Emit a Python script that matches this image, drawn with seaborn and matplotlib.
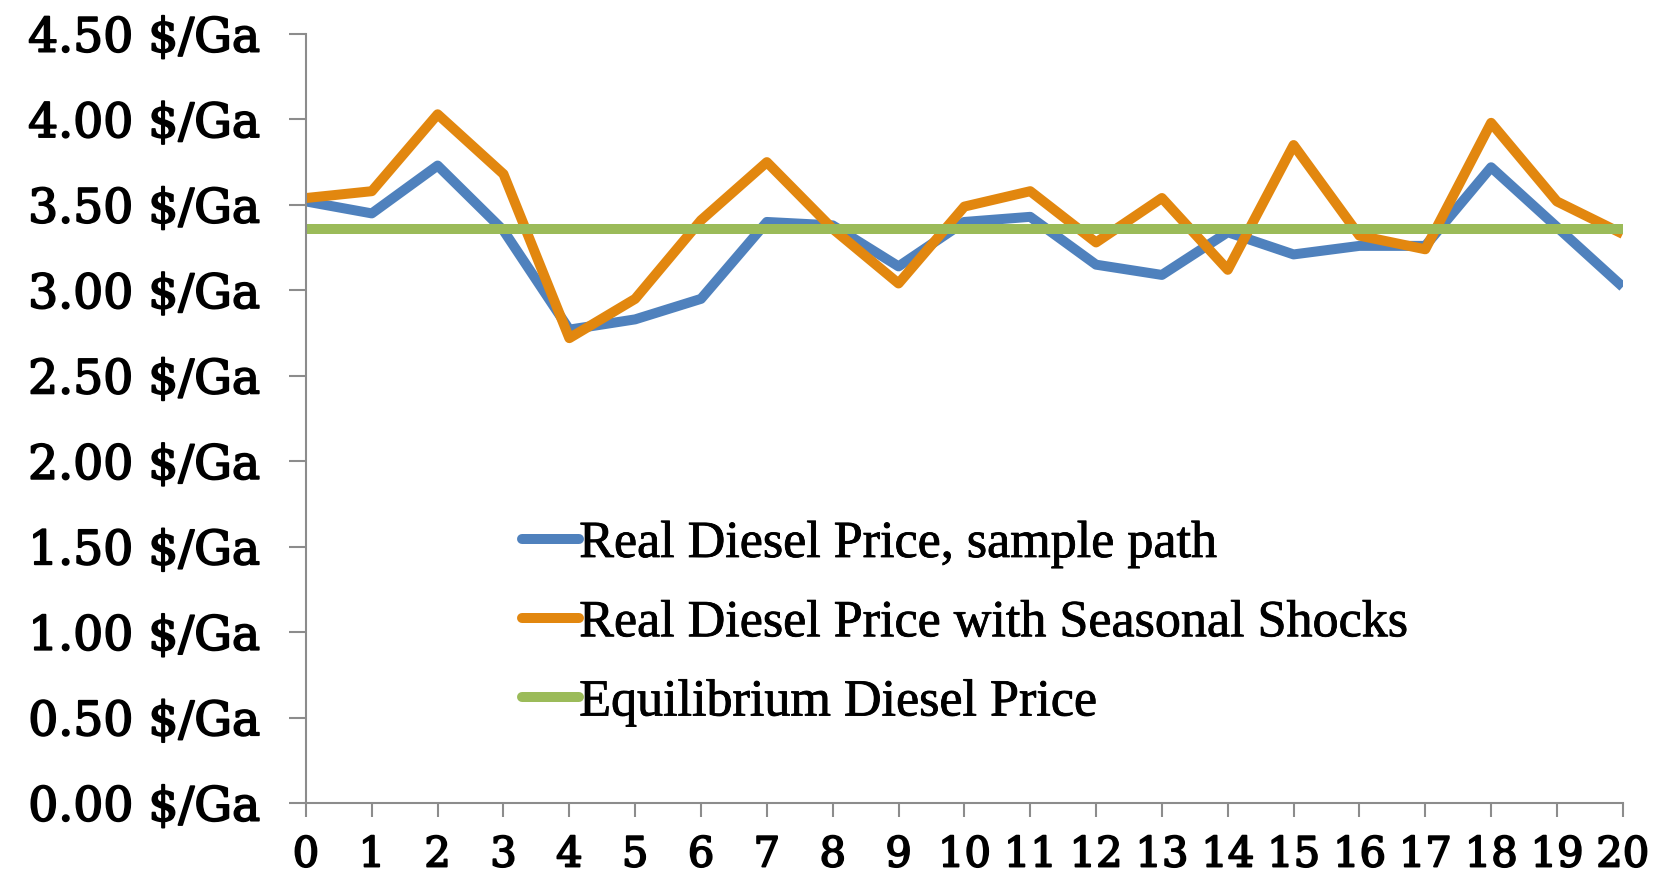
import numpy as np
import pandas as pd
import matplotlib
matplotlib.use("Agg")
import matplotlib.pyplot as plt
import matplotlib.patheffects as pe
import seaborn as sns

periods = list(range(21))
sample_path = [3.52, 3.45, 3.73, 3.35, 2.77, 2.83, 2.95, 3.40, 3.38, 3.14, 3.40,
               3.43, 3.15, 3.09, 3.34, 3.21, 3.26, 3.26, 3.72, 3.37, 3.02]
seasonal = [3.54, 3.58, 4.03, 3.68, 2.72, 2.95, 3.41, 3.75, 3.36, 3.04, 3.49,
            3.58, 3.28, 3.54, 3.12, 3.85, 3.32, 3.24, 3.98, 3.52, 3.33]
equilibrium = [3.36] * 21

names = ["Real Diesel Price, sample path",
         "Real Diesel Price with Seasonal Shocks",
         "Equilibrium Diesel Price"]
colors = ["#4f81bd", "#e2870f", "#9bbb59"]
yticks = [0, 0.5, 1, 1.5, 2, 2.5, 3, 3.5, 4, 4.5]

df = pd.DataFrame({"t": periods * 3,
                   "price": sample_path + seasonal + equilibrium,
                   "series": [names[0]] * 21 + [names[1]] * 21 + [names[2]] * 21})

sns.set_style("white")
plt.rcParams["font.family"] = ["DejaVu Serif"]

fig = plt.figure(figsize=(16.61, 8.80), dpi=100)
ax = fig.add_axes([0.1842, 0.0875, 0.977 - 0.1842, 0.9614 - 0.0875])

sns.lineplot(data=df, x="t", y="price", hue="series", hue_order=names,
             palette=colors, linewidth=7.2, ax=ax, legend=False,
             solid_joinstyle="round", solid_capstyle="butt")

ax.set_xlim(0, 20)
ax.set_ylim(0, 4.5)
ax.set_xticks(periods)
ax.set_xticklabels([str(p) for p in periods])
ax.set_yticks(yticks)
ax.set_yticklabels(["%.2f $/Ga" % v for v in yticks])
ax.set_xlabel("")
ax.set_ylabel("")

for s in ["top", "right"]:
    ax.spines[s].set_visible(False)
for s in ["left", "bottom"]:
    ax.spines[s].set_color("#8c8c8c")
    ax.spines[s].set_linewidth(1.5)
ax.tick_params(axis="both", left=True, bottom=True, colors="#8c8c8c", width=1.5,
               direction="out", labelcolor="black")
ax.tick_params(axis="y", labelsize=34, pad=21, length=12)
ax.tick_params(axis="x", labelsize=30, pad=12, length=10)

# heavier tick label strokes, like the original's bold-ish serif
for lab in ax.get_xticklabels() + ax.get_yticklabels():
    lab.set_path_effects([pe.withStroke(linewidth=1.3, foreground="black")])

handles = [plt.Line2D([], [], color=c, linewidth=7.2, solid_capstyle="round") for c in colors]
leg = ax.legend(handles, names, loc="upper left", bbox_to_anchor=(0.164, 0.368),
                frameon=False, handlelength=1.1, handletextpad=0.0,
                labelspacing=0.6, borderaxespad=0, borderpad=0,
                prop={"family": "Liberation Serif", "size": 37.5})
for t in leg.get_texts():
    t.set_color("black")
    t.set_path_effects([pe.withStroke(linewidth=0.6, foreground="black")])

fig.savefig("out.png", dpi=100)
